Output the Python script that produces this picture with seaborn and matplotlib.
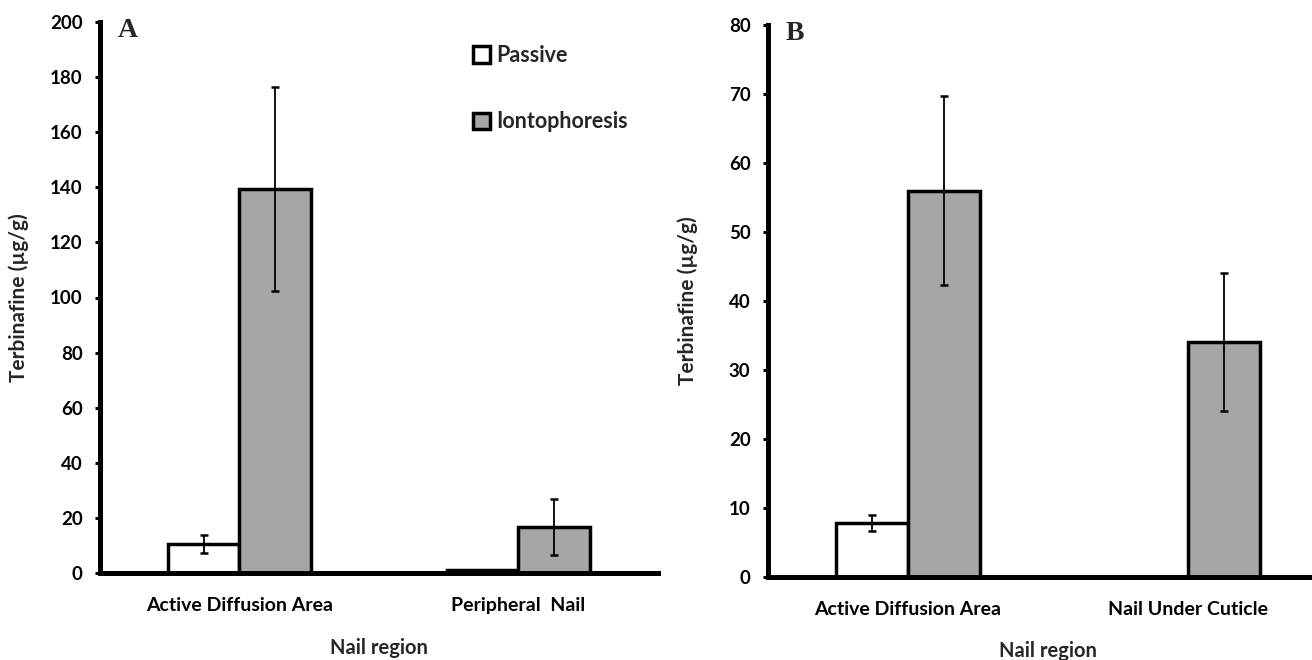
import numpy as np
import pandas as pd
import matplotlib
matplotlib.use("Agg")
import matplotlib.pyplot as plt
import seaborn as sns

# panel A
regions_a = ["Active Diffusion Area", "Peripheral  Nail"]
passive_a = [10.5, 1.0]
passive_a_sd = [3.4, 0.0]
ionto_a = [139.5, 16.8]
ionto_a_sd = [37.0, 10.2]

# panel B
regions_b = ["Active Diffusion Area", "Nail Under Cuticle"]
passive_b = [7.8, 0.0]
passive_b_sd = [1.2, 0.0]
ionto_b = [56.0, 34.0]
ionto_b_sd = [13.7, 10.0]

methods = ["Passive", "Iontophoresis"]
colors = {"Passive": "white", "Iontophoresis": "#a6a6a6"}

sns.set_theme(style="white")
plt.rcParams["font.family"] = ["Lato", "DejaVu Sans"]
plt.rcParams["font.weight"] = "bold"

fig = plt.figure(figsize=(13.12, 6.6), dpi=100)
ax_a = fig.add_axes([100 / 1312, 87 / 660, 558 / 1312, 551 / 660])
ax_b = fig.add_axes([768 / 1312, 83 / 660, 560 / 1312, 552 / 660])


def draw_panel(ax, regions, passive, passive_sd, ionto, ionto_sd, ymax, step, letter):
    df = pd.DataFrame({
        "region": regions * 2,
        "method": ["Passive"] * len(regions) + ["Iontophoresis"] * len(regions),
        "value": passive + ionto,
    })
    sns.barplot(data=df, x="region", y="value", hue="method", hue_order=methods,
                order=regions, palette=colors, edgecolor="black", linewidth=2.5,
                width=0.514, gap=0, errorbar=None, legend=False, ax=ax)
    for cont, sds in zip(ax.containers, [passive_sd, ionto_sd]):
        for bar, sd in zip(cont, sds):
            if sd <= 0:
                continue
            ax.errorbar(bar.get_x() + bar.get_width() / 2, bar.get_height(), yerr=sd,
                        fmt="none", ecolor="black", elinewidth=1.3, capsize=3, capthick=1.8,
                        zorder=5)
    ax.set_xlim(-0.5, 1.5)
    ax.set_ylim(0, ymax)
    ax.set_yticks(np.arange(0, ymax + 1, step))
    sns.despine(ax=ax)
    for side in ["left", "bottom"]:
        ax.spines[side].set_linewidth(3.6)
        ax.spines[side].set_color("black")
    ax.tick_params(axis="y", left=True, length=3.6, width=2.2, direction="out",
                   pad=9, labelsize=13.5, colors="black")
    ax.tick_params(axis="x", bottom=False, pad=11, labelsize=14, colors="black")
    ax.set_xlabel("Nail region", fontsize=14.5, fontweight="bold")
    ax.set_ylabel("Terbinafine (µg/g)", fontsize=15, fontweight="bold")
    ax.text(0.032, 1.008, letter, transform=ax.transAxes, va="top", ha="left",
            fontsize=20, fontweight="bold", family="Liberation Serif")


draw_panel(ax_a, regions_a, passive_a, passive_a_sd, ionto_a, ionto_a_sd, 200, 20, "A")
draw_panel(ax_b, regions_b, passive_b, passive_b_sd, ionto_b, ionto_b_sd, 80, 10, "B")

ax_a.xaxis.set_label_coords(0.5, -0.118)
ax_a.yaxis.set_label_coords(-0.127, 0.5)
ax_b.xaxis.set_label_coords(0.5, -0.116)
ax_b.yaxis.set_label_coords(-0.125, 0.5)

handles = [plt.Rectangle((0, 0), 1, 1, facecolor=colors[m], edgecolor="black", linewidth=2.5)
           for m in methods]
ax_a.legend(handles, methods, loc="upper left", bbox_to_anchor=(0.668, 0.958),
            frameon=False, handlelength=0.8, handleheight=0.8, handletextpad=0.3,
            labelspacing=2.1, borderaxespad=0, borderpad=0,
            prop={"size": 15.5, "weight": "bold"})

fig.savefig("out.png", dpi=100)
